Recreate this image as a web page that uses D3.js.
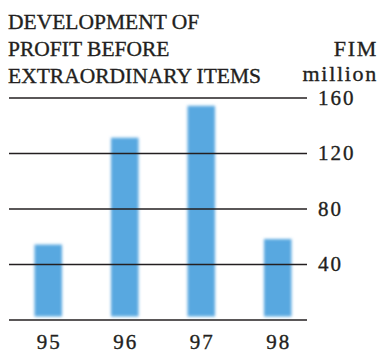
<html>
<head>
<script src="https://d3js.org/d3.v7.min.js"></script>
<style>
  body { margin: 0; background: #fff; }
  text { font-family: "Liberation Serif", "DejaVu Serif", serif; fill: #231f20; stroke: #231f20; stroke-width: 0.35px; }
</style>
</head>
<body>
<svg id="chart" width="379" height="352"></svg>
<script>
const years = ['95', '96', '97', '98'];
const profit = [54, 131, 154, 58];
const ticks = [0, 40, 80, 120, 160];
const titleLines = ['DEVELOPMENT OF', 'PROFIT BEFORE', 'EXTRAORDINARY ITEMS'];
const unitLines = ['FIM', 'million'];

const svg = d3.select('#chart');

const x = d3.scaleBand().domain(years).range([10, 316]).paddingInner(0.64).paddingOuter(0.32);
const y = d3.scaleLinear().domain([0, 160]).range([319.5, 97.5]);

// soft edges on the bars
const defs = svg.append('defs');
defs.append('filter').attr('id', 'blur')
    .attr('x', '-30%').attr('y', '-10%').attr('width', '160%').attr('height', '120%')
  .append('feGaussianBlur').attr('stdDeviation', 1.6);

svg.append('g')
    .attr('filter', 'url(#blur)')
  .selectAll('rect')
  .data(profit)
  .join('rect')
    .attr('x', (d, i) => x(years[i]))
    .attr('width', x.bandwidth())
    .attr('y', d => y(d))
    .attr('height', d => y(0) - 3 - y(d))
    .attr('fill', '#58a8e0');

// grid lines + right-side labels
const yAxis = d3.axisRight(y).tickValues(ticks).tickSize(-(307 - 9)).tickPadding(11);
const ga = svg.append('g').attr('transform', 'translate(307,0)').call(yAxis);
ga.select('.domain').remove();
ga.selectAll('.tick line').attr('stroke', '#231f20').attr('stroke-width', 1.3);
ga.selectAll('.tick text')
    .attr('font-size', 21)
    .attr('letter-spacing', 2)
    .attr('text-anchor', 'start')
    .text(d => d === 0 ? '' : d);

// year labels
const xAxis = d3.axisBottom(x).tickSize(0);
const gx = svg.append('g').attr('transform', `translate(0,${y(0)})`).call(xAxis);
gx.select('.domain').remove();
gx.selectAll('.tick text')
    .attr('font-size', 21)
    .attr('letter-spacing', 2)
    .attr('dx', 1)
    .attr('dy', null)
    .attr('y', 29);

// title
svg.append('g').selectAll('text')
  .data(titleLines)
  .join('text')
    .attr('x', 8)
    .attr('y', (d, i) => 29 + i * 27)
    .attr('font-size', 21.5)
    .text(d => d);

svg.append('g').selectAll('text')
  .data(unitLines)
  .join('text')
    .attr('x', 378)
    .attr('y', (d, i) => 55.5 + i * 25)
    .attr('text-anchor', 'end')
    .attr('font-size', 22)
    .attr('letter-spacing', 1.7)
    .text(d => d);
</script>
</body>
</html>
